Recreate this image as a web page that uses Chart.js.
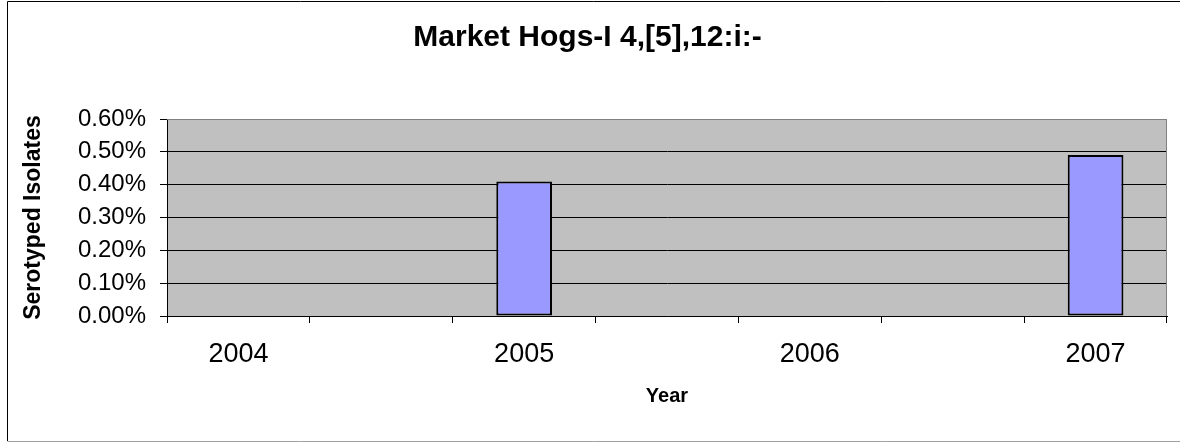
<!DOCTYPE html>
<html>
<head>
<meta charset="utf-8">
<script src="https://cdn.jsdelivr.net/npm/chart.js@4.4.0/dist/chart.umd.min.js"></script>
<style>
  html, body { margin: 0; padding: 0; background: #fff; }
  #wrap { width: 1180px; height: 442px; position: relative; }
</style>
</head>
<body>
<div id="wrap"><canvas id="chart" width="1180" height="442"></canvas></div>
<script>
// chart data
const categories = ['2004', '', '2005', '', '2006', '', '2007'];
const isolates = [null, null, 0.41, null, null, null, 0.49];
const yTicks = [0, 0.1, 0.2, 0.3, 0.4, 0.5, 0.6];

// grey plot background + outer frame
const frame = {
    id: 'frame',
    beforeDraw(chart) {
        const c = chart.ctx, a = chart.chartArea;
        c.save();
        c.fillStyle = '#ffffff';
        c.fillRect(0, 0, chart.width, chart.height);
        c.fillStyle = '#c0c0c0';
        c.fillRect(a.left, a.top, a.right - a.left, a.bottom - a.top);
        c.restore();
    },
    afterDraw(chart) {
        const c = chart.ctx, a = chart.chartArea;
        c.save();
        c.lineWidth = 1;
        c.strokeStyle = '#808080';
        c.beginPath();
        c.moveTo(a.left, a.top + 0.5);
        c.lineTo(a.right - 0.5, a.top + 0.5);
        c.lineTo(a.right - 0.5, a.bottom);
        c.stroke();
        c.strokeStyle = '#000';
        c.beginPath();
        c.moveTo(7.5, 441);
        c.lineTo(7.5, 1.5);
        c.lineTo(1180, 1.5);
        c.stroke();
        c.strokeStyle = '#a0a0a0';
        c.beginPath();
        c.moveTo(7.5, 441.5);
        c.lineTo(1180, 441.5);
        c.stroke();
        c.restore();
    }
};

const ctx = document.getElementById('chart').getContext('2d');
new Chart(ctx, {
    type: 'bar',
    data: {
        labels: categories,
        datasets: [{
            label: 'Serotyped Isolates',
            data: isolates,
            backgroundColor: '#9999ff',
            borderColor: '#000000',
            borderWidth: 2,
            borderSkipped: false,
            barPercentage: 0.39,
            categoryPercentage: 1
        }]
    },
    options: {
        responsive: false,
        animation: false,
        layout: { padding: { left: 8, right: 13, top: 0, bottom: 0 } },
        plugins: {
            legend: { display: false },
            tooltip: { enabled: false },
            title: {
                display: true,
                text: 'Market Hogs-I 4,[5],12:i:-',
                color: '#000',
                font: { family: 'Arial, "Liberation Sans"', size: 30, weight: 'bold' },
                padding: { top: 20, bottom: 63 }
            }
        },
        scales: {
            x: {
                afterFit(scale) { scale.height = 126; },
                grid: { display: true, drawOnChartArea: false, offset: true, tickLength: 7, color: '#000' },
                border: { color: '#000', width: 1 },
                ticks: {
                    color: '#000',
                    font: { family: 'Arial, "Liberation Sans"', size: 27 },
                    padding: 15,
                    autoSkip: false,
                    maxRotation: 0
                },
                title: {
                    display: true,
                    text: 'Year',
                    color: '#000',
                    font: { family: 'Arial, "Liberation Sans"', size: 20, weight: 'bold' },
                    padding: { top: 14, bottom: 34 }
                }
            },
            y: {
                min: 0,
                max: 0.6,
                afterBuildTicks(scale) {
                    scale.ticks = yTicks.map(v => ({ value: v }));
                },
                afterFit(scale) { scale.width = 159; },
                grid: {
                    color: ctx => ctx.tick && ctx.tick.value === 0.6 ? '#808080' : '#000',
                    tickLength: 7,
                    tickColor: '#000'
                },
                border: { color: '#000', width: 1 },
                ticks: {
                    color: '#000',
                    font: { family: 'Arial, "Liberation Sans"', size: 24 },
                    padding: 14,
                    callback: v => v.toFixed(2) + '%'
                },
                title: {
                    display: true,
                    text: 'Serotyped Isolates',
                    color: '#000',
                    font: { family: 'Arial, "Liberation Sans"', size: 23, weight: 'bold' },
                    padding: { top: 12, bottom: 4 }
                }
            }
        }
    },
    plugins: [frame]
});
</script>
</body>
</html>
